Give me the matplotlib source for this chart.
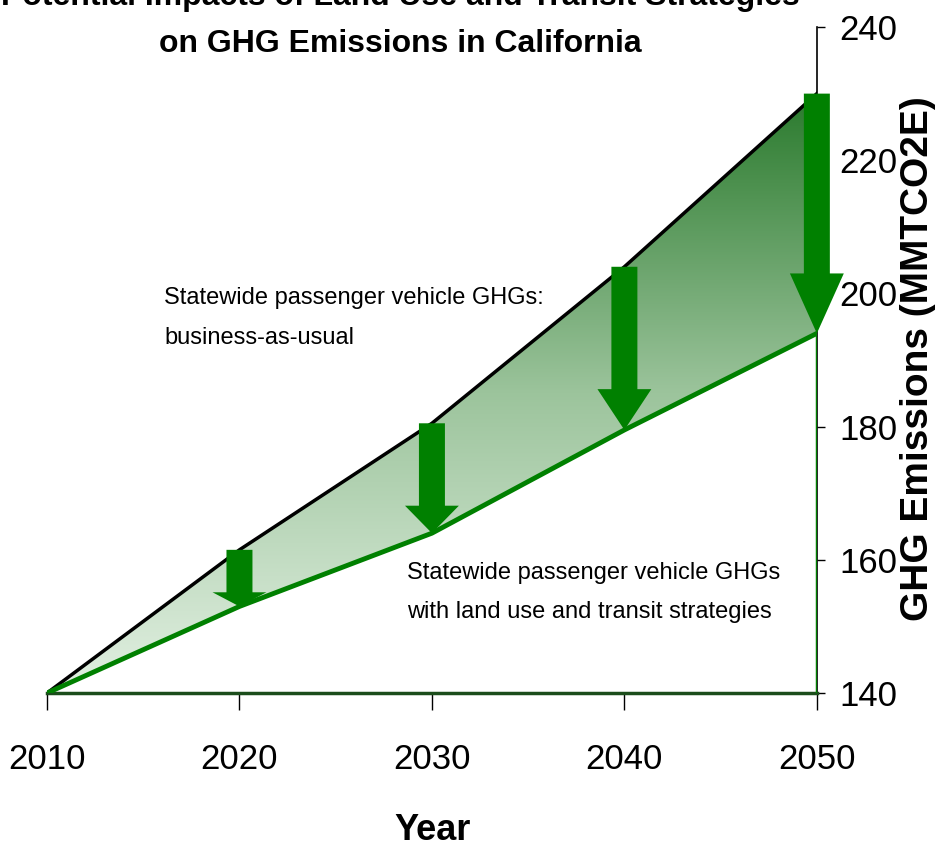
import numpy as np
import matplotlib
matplotlib.use("Agg")
from matplotlib import pyplot as plt
from matplotlib.colors import LinearSegmentedColormap

plt.rcParams['font.family'] = ['Liberation Sans', 'DejaVu Sans']

years = [2010, 2020, 2030, 2040, 2050]
bau = [140, 161.5, 180.5, 204, 230]
strategies = [140, 153, 164, 179.5, 194]
arrow_years = [2020, 2030, 2040, 2050]
y_ticks = [140, 160, 180, 200, 220, 240]

title_1 = "Potential Impacts of Land Use and Transit Strategies"
title_2 = "on GHG Emissions in California"
bau_label = "Statewide passenger vehicle GHGs:\nbusiness-as-usual"
strat_label = "Statewide passenger vehicle GHGs\nwith land use and transit strategies"

green = "#008000"

fig = plt.figure(figsize=(9.4, 8.47), dpi=100)
ax = fig.add_axes([0.05, 0.1818, 0.819, 0.7863])
ax.set_xlim(2010, 2050)
ax.set_ylim(140, 240)

# gradient fill between the two lines, clipped to the area
poly = ax.fill_between(years, strategies, bau, color="none", lw=0)
cmap = LinearSegmentedColormap.from_list("g", ["#e2f0e2", "#9cc49c", "#2a7a2d"])
grad = np.linspace(0, 1, 256).reshape(-1, 1)
im = ax.imshow(grad, cmap=cmap, origin="lower", aspect="auto",
               extent=[2010, 2050, 140, max(bau)], zorder=1)
im.set_clip_path(poly.get_paths()[0], transform=ax.transData)

ax.plot(years, bau, color="black", lw=2.5, zorder=3)
ax.plot(years, strategies, color=green, lw=3.5, zorder=3)
ax.plot([years[-1], years[-1]], [140, strategies[-1]], color=green, lw=2.5, zorder=3)

for yr in arrow_years:
    i = years.index(yr)
    top, bot = bau[i], strategies[i]
    drop = top - bot
    ax.arrow(yr, top, 0, -drop, width=1.35, head_width=2.8, head_length=drop * 0.25,
             length_includes_head=True, color=green, lw=0, zorder=4, clip_on=False)

ax.text(2016.1, 201, bau_label, fontsize=17, va="top", ha="left", linespacing=2.1)
ax.text(2028.7, 159.6, strat_label, fontsize=17, va="top", ha="left", linespacing=1.95)

for s in ["left", "top"]:
    ax.spines[s].set_visible(False)
ax.spines["right"].set_color("black")
ax.spines["right"].set_linewidth(1.2)
ax.spines["bottom"].set_color("#1b4d1b")
ax.spines["bottom"].set_linewidth(2.5)

ax.set_xticks(years)
ax.set_xticklabels([str(y) for y in years])
ax.tick_params(axis="x", direction="out", length=12, width=1, pad=24, labelsize=25)
ax.yaxis.tick_right()
ax.set_yticks(y_ticks)
ax.tick_params(axis="y", direction="out", length=6, width=1, pad=10, labelsize=25)

fig.text(0.4255, 1 - 5 / 847, title_1, fontsize=23, fontweight="bold", ha="center", va="baseline")
fig.text(0.4255, 1 - 52 / 847, title_2, fontsize=23, fontweight="bold", ha="center", va="baseline")
fig.text(0.46, 7 / 847, "Year", fontsize=26, fontweight="bold", ha="center", va="baseline")
fig.text(0.977, 0.577, "GHG Emissions (MMTCO2E)", fontsize=28, fontweight="bold",
         rotation=90, ha="center", va="center")

fig.savefig("out.png", dpi=100)
